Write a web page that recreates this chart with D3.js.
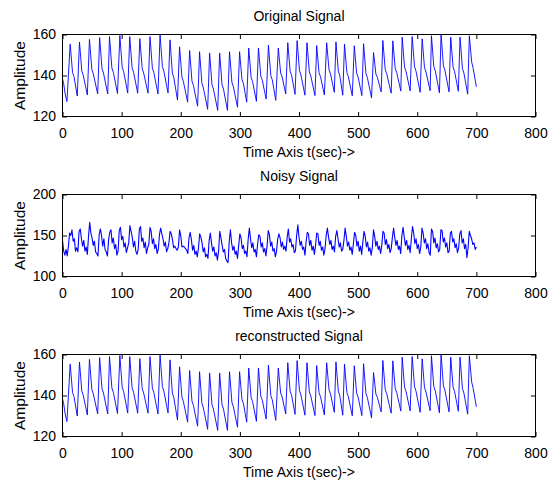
<!DOCTYPE html>
<html>
<head>
<meta charset="utf-8">
<script src="https://cdn.jsdelivr.net/npm/d3@7/dist/d3.min.js"></script>
<style>
  html, body { margin: 0; padding: 0; background: #fff; }
  svg { display: block; }
  text { font-family: "Liberation Sans", Arial, Helvetica, sans-serif; fill: #000; }
</style>
</head>
<body>
<svg id="chart" width="548" height="484"></svg>
<script>
// ---------------- DATA ----------------
const xTicks = [0, 100, 200, 300, 400, 500, 600, 700, 800];
const yTicksSignal = [120, 140, 160];
const yTicksNoisy = [100, 150, 200];
const titles = ["Original Signal", "Noisy Signal", "reconstructed Signal"];
const xLabel = "Time Axis t(sec)->";
const yLabel = "Amplitude";

// Original signal: opening samples, then per beat: peak, knee, dicrotic notch, following trough
const leadT = [0, 2, 4.5, 7.5];
const leadV = [138.5, 136, 131, 127.3];
const peakT = [13, 28.7, 45.6, 62.8, 79.5, 97, 113.7, 130.8, 148, 165,
  181.8, 198, 215, 231.8, 248.8, 265.8, 282.5, 299.5, 315, 331.4,
  348.3, 365, 381, 396.8, 413.5, 429.9, 446.8, 462.5, 477, 493.5,
  509.2, 526.1, 541.8, 558.7, 574.5, 591.4, 608.3, 624, 640.3, 656.6,
  672.4, 688.1];
const peakV = [155.3, 156.3, 157.6, 158.5, 159, 159.5, 159, 158, 159, 160,
  157.4, 154, 152.2, 151.6, 151, 151, 151.6, 151.6, 153.4, 153.4,
  154.8, 153.4, 156, 157, 156, 154.6, 156, 156.4, 155.3, 154.5,
  155.5, 151.2, 157.1, 156.9, 158.7, 159, 157.9, 159.4, 160, 158.7,
  158.7, 159.4];
const kneeT = [17, 32.7, 49.6, 66.8, 83.5, 101, 117.7, 134.8, 152, 169,
  185.8, 202, 219, 235.8, 252.8, 269.8, 286.5, 303.5, 319, 335.4,
  352.3, 369, 385, 400.8, 417.5, 433.9, 450.8, 466.5, 481, 497.5,
  513.2, 530.1, 545.8, 562.7, 578.5, 595.4, 612.3, 628, 644.3, 660.6,
  676.4, 692.1];
const kneeV = [141.4, 142.1, 143.0, 143.4, 143.7, 144.0, 143.8, 143.4, 143.6, 144.3,
  141.2, 139.2, 137.2, 136.1, 135.6, 135.6, 136.7, 138.1, 139.1, 139.7,
  140.0, 141.1, 142.1, 142.4, 141.8, 141.3, 142.7, 142.1, 141.4, 141.1,
  141.0, 140.6, 143.0, 143.4, 144.1, 144.3, 143.8, 144.4, 144.7, 144.1,
  143.4, 146.5];
const notchT = [19.5, 35.2, 52.1, 69.3, 86, 103.5, 120.2, 137.3, 154.5, 171.5,
  188.3, 204.5, 221.5, 238.3, 255.3, 272.3, 289, 306, 321.5, 337.9,
  354.8, 371.5, 387.5, 403.3, 420, 436.4, 453.3, 469, 483.5, 500,
  515.7, 532.6, 548.3, 565.2, 581, 597.9, 614.8, 630.5, 646.8, 663.1,
  678.9, 694.6];
const notchV = [139.4, 140.0, 140.8, 141.2, 141.5, 141.8, 141.6, 141.2, 141.4, 142.0,
  138.9, 137.0, 135.1, 133.9, 133.4, 133.4, 134.5, 136.1, 137.0, 137.7,
  137.9, 139.3, 140.1, 140.2, 139.7, 139.4, 140.8, 140.0, 139.4, 139.2,
  138.9, 139.1, 140.9, 141.5, 142.0, 142.1, 141.7, 142.3, 142.5, 142.0,
  141.2, 143.5];
const troughT = [25, 42, 59.5, 76.5, 93, 110.3, 127.2, 144.6, 161.5, 178.5,
  194.5, 211.6, 228.5, 245.5, 262.5, 279, 296, 311.5, 328, 344.4,
  360.7, 377.5, 393.3, 410, 427, 442.9, 459.7, 474, 490.1, 506.3,
  522.7, 539, 555.9, 572.2, 588, 604.9, 621.8, 637.5, 653.8, 669.5,
  685.3, 700];
const troughV = [130, 130.5, 131, 131, 131.2, 131.4, 131.4, 131.4, 131, 131.5,
  128, 127, 125, 123.5, 123, 123, 124.5, 127, 127.4, 128.5,
  127.9, 131, 130.8, 130.4, 130.2, 130.5, 131.8, 130.4, 130.1, 130.2,
  129.1, 132, 131.4, 132.4, 132.5, 131.8, 132.6, 131.5, 132.0, 132.3,
  130.9, 134.5];

// Noisy signal: one value every 2 samples, t = 0, 2, ..., 700
const noisyStep = 2;
const noisyV = [
  144,131,126,133,125,137,153,150,157,143,146,
  131,135,130,155,158,146,137,144,131,136,127,
  149,166,153,147,138,143,130,128,125,151,158,
  150,137,146,133,130,125,145,154,157,141,147,
  134,139,126,131,156,160,145,149,136,141,129,
  135,141,162,155,148,136,143,131,127,133,158,
  161,143,147,135,142,128,135,139,160,155,140,
  146,134,139,128,133,151,159,152,146,137,142,
  130,134,141,155,152,145,135,137,134,132,136,
  157,150,136,137,136,134,132,128,147,154,145,
  132,138,127,131,124,135,152,148,141,130,135,
  124,127,122,144,153,141,131,136,125,129,120,
  131,155,147,138,130,133,122,119,117,143,157,
  141,132,137,127,131,122,138,152,147,134,138,
  128,131,124,145,159,146,135,141,130,133,124,
  140,151,149,136,141,130,134,125,137,156,151,
  137,142,131,134,124,131,146,152,147,136,142,
  133,137,131,148,158,142,146,136,139,129,131,
  150,163,148,138,143,133,136,126,142,154,152,
  138,144,132,137,127,138,153,152,138,143,132,
  136,126,134,150,159,148,139,144,133,137,130,
  149,156,146,136,141,131,133,144,159,149,137,
  142,132,136,127,140,154,150,137,143,131,137,
  127,142,155,149,136,142,131,135,126,135,157,
  149,137,143,133,137,128,138,155,153,139,145,
  134,139,129,134,148,159,147,138,144,133,137,
  128,150,160,148,138,144,133,138,129,146,161,
  153,140,146,134,139,128,136,159,153,141,146,
  134,140,129,126,158,155,141,147,135,140,130,
  133,157,156,142,147,136,141,129,131,153,155,
  142,146,135,140,129,135,152,156,141,146,134,
  139,123,135,155,150,146,139,141,133,136
];

// ---------------- BUILD SERIES ----------------
function buildOriginal() {
  const pts = leadT.map((t, i) => [t, leadV[i]]);
  peakT.forEach((t, i) => {
    pts.push([t, peakV[i]]);
    pts.push([kneeT[i], kneeV[i]]);
    pts.push([notchT[i], notchV[i]]);
    pts.push([troughT[i], troughV[i]]);
  });
  return pts;
}
const originalSeries = buildOriginal();
const noisySeries = noisyV.map((v, i) => [i * noisyStep, v]);
const reconstructedSeries = buildOriginal(); // visually identical to the original

// ---------------- LAYOUT ----------------
const svg = d3.select("#chart");
svg.append("rect").attr("width", 548).attr("height", 484).attr("fill", "#fff");

const left = 62.5, right = 535.5;
const panels = [
  { top: 34.5, bottom: 116.5, domain: [120, 160], ticks: yTicksSignal, data: originalSeries, title: titles[0], sw: 0.9 },
  { top: 194.5, bottom: 276.5, domain: [100, 200], ticks: yTicksNoisy, data: noisySeries, title: titles[1], sw: 1.1 },
  { top: 354.5, bottom: 436.5, domain: [120, 160], ticks: yTicksSignal, data: reconstructedSeries, title: titles[2], sw: 0.9 }
];

const x = d3.scaleLinear().domain([0, 800]).range([left, right]);
const FS = 14;
const tickLen = 4.5;

panels.forEach(p => {
  const y = d3.scaleLinear().domain(p.domain).range([p.bottom, p.top]);
  const g = svg.append("g");

  const cid = "clip" + Math.round(p.top);
  svg.append("clipPath").attr("id", cid).append("rect")
    .attr("x", left).attr("y", p.top - 1).attr("width", right - left).attr("height", p.bottom - p.top + 2);

  g.append("path")
    .datum(p.data)
    .attr("clip-path", `url(#${cid})`)
    .attr("fill", "none")
    .attr("stroke", "#0000ff")
    .attr("stroke-width", p.sw)
    .attr("stroke-linejoin", "round")
    .attr("d", d3.line().x(d => x(d[0])).y(d => y(d[1])));

  const axB = g.append("g").attr("transform", `translate(0,${p.bottom})`)
    .call(d3.axisBottom(x).tickValues(xTicks).tickSize(-tickLen).tickPadding(11.5));
  const axT = g.append("g").attr("transform", `translate(0,${p.top})`)
    .call(d3.axisTop(x).tickValues(xTicks).tickSize(-tickLen).tickFormat(""));
  const axL = g.append("g").attr("transform", `translate(${left},0)`)
    .call(d3.axisLeft(y).tickValues(p.ticks).tickSize(-tickLen).tickPadding(6.5));
  const axR = g.append("g").attr("transform", `translate(${right},0)`)
    .call(d3.axisRight(y).tickValues(p.ticks).tickSize(-tickLen).tickFormat(""));
  [axB, axT, axL, axR].forEach(a => {
    a.select(".domain").remove();
    a.selectAll("line").attr("stroke", "#000");
    a.selectAll("text").attr("font-size", FS).attr("font-family", "Liberation Sans, Arial, sans-serif").attr("fill", "#000");
  });

  g.append("rect")
    .attr("x", left).attr("y", p.top)
    .attr("width", right - left).attr("height", p.bottom - p.top)
    .attr("fill", "none").attr("stroke", "#000").attr("stroke-width", 1);

  const cx = (left + right) / 2;
  g.append("text").attr("x", cx).attr("y", p.top - 14)
    .attr("text-anchor", "middle").attr("font-size", FS).text(p.title);
  g.append("text").attr("x", cx).attr("y", p.bottom + 40)
    .attr("text-anchor", "middle").attr("font-size", FS).text(xLabel);
  g.append("text")
    .attr("transform", `translate(25,${(p.top + p.bottom) / 2}) rotate(-90)`)
    .attr("text-anchor", "middle").attr("font-size", 15.5).text(yLabel);
});
</script>
</body>
</html>
